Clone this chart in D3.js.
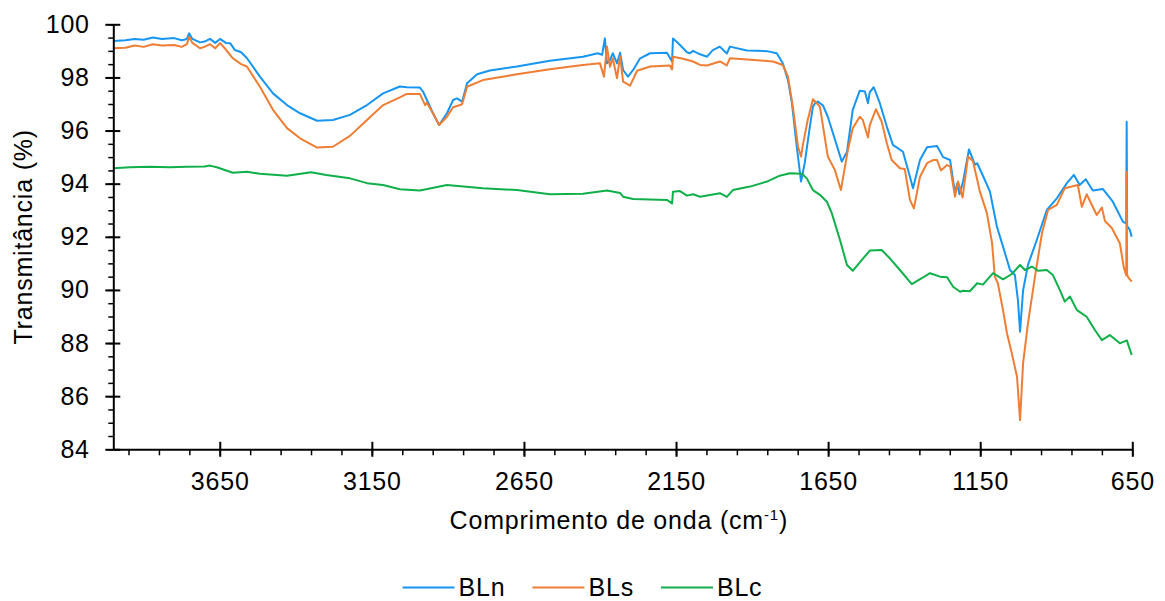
<!DOCTYPE html>
<html>
<head>
<meta charset="utf-8">
<script src="https://cdn.jsdelivr.net/npm/d3@7/dist/d3.min.js"></script>
<style>
  html, body { margin: 0; padding: 0; background: #fff; }
  svg { display: block; font-family: "Liberation Sans", Arial, sans-serif; }
  text { letter-spacing: 0.8px; }
</style>
</head>
<body>
<svg id="chart" width="1165" height="601"></svg>
<script>
// FTIR spectra: [wavenumber (cm-1), transmittance (%)]
const seriesNames = ["BLn", "BLs", "BLc"];
const seriesColors = ["#1696f0", "#ef7d33", "#0fb04a"];

const blnData = [
  [4000, 99.37], [3960, 99.40], [3930, 99.45], [3900, 99.42], [3870, 99.50], [3840, 99.45],
  [3800, 99.48], [3775, 99.40], [3758, 99.45], [3751, 99.66], [3740, 99.45], [3715, 99.32],
  [3700, 99.35], [3682, 99.45], [3665, 99.30], [3649, 99.45], [3630, 99.30], [3616, 99.29],
  [3600, 99.03], [3580, 98.95], [3561, 98.73], [3518, 98.03], [3475, 97.40], [3429, 96.96],
  [3386, 96.65], [3330, 96.37], [3278, 96.40], [3222, 96.59], [3166, 96.96], [3113, 97.40],
  [3058, 97.66], [3035, 97.63], [2992, 97.62], [2982, 97.47], [2975, 97.30], [2969, 97.15],
  [2949, 96.65], [2929, 96.21], [2903, 96.65], [2883, 97.15], [2870, 97.21], [2853, 97.09],
  [2837, 97.78], [2804, 98.12], [2762, 98.26], [2673, 98.41], [2565, 98.63], [2456, 98.78],
  [2407, 98.91], [2393, 98.85], [2384, 99.47], [2377, 98.53], [2367, 98.65], [2358, 98.91],
  [2344, 98.53], [2334, 98.93], [2324, 98.28], [2308, 98.03], [2291, 98.28], [2268, 98.72],
  [2235, 98.91], [2180, 98.93], [2163, 98.60], [2160, 99.47], [2137, 99.22], [2114, 98.95],
  [2104, 98.91], [2094, 99.00], [2071, 98.87], [2048, 98.78], [2029, 99.03], [2006, 99.16],
  [1983, 98.90], [1973, 99.16], [1917, 99.01], [1851, 98.99], [1819, 98.91], [1799, 98.53],
  [1782, 97.90], [1769, 97.03], [1753, 95.39], [1739, 94.08], [1727, 94.77], [1710, 96.15],
  [1700, 96.90], [1693, 97.03], [1684, 97.09], [1667, 96.95], [1651, 96.52], [1634, 95.90],
  [1605, 94.83], [1588, 95.20], [1569, 96.78], [1546, 97.50], [1529, 97.47], [1519, 97.03],
  [1513, 97.45], [1500, 97.63], [1480, 97.03], [1457, 96.15], [1437, 95.46], [1404, 95.20],
  [1381, 94.26], [1371, 93.83], [1348, 94.89], [1325, 95.37], [1292, 95.42], [1272, 95.00],
  [1249, 94.89], [1233, 93.64], [1226, 94.00], [1218, 93.60], [1206, 94.10], [1187, 95.29],
  [1167, 94.71], [1160, 94.77], [1141, 94.30], [1118, 93.70], [1095, 92.38], [1075, 91.63],
  [1052, 90.75], [1036, 90.56], [1026, 89.62], [1019, 88.43], [1009, 89.99], [993, 90.94],
  [964, 91.88], [931, 93.01], [898, 93.45], [865, 94.02], [842, 94.33], [823, 93.95],
  [803, 94.17], [780, 93.74], [747, 93.80], [714, 93.32], [681, 92.57], [670, 92.50],
  [668.5, 96.33], [667, 92.40], [658, 92.26], [652, 92.00]
];

const blsData = [
  [4000, 99.10], [3960, 99.12], [3930, 99.20], [3900, 99.15], [3870, 99.25], [3840, 99.20],
  [3800, 99.22], [3775, 99.15], [3758, 99.25], [3751, 99.53], [3740, 99.30], [3715, 99.10],
  [3700, 99.15], [3682, 99.25], [3665, 99.10], [3649, 99.29], [3630, 99.05], [3607, 98.72],
  [3580, 98.50], [3561, 98.41], [3518, 97.65], [3475, 96.78], [3429, 96.09], [3386, 95.71],
  [3330, 95.36], [3278, 95.39], [3222, 95.80], [3166, 96.40], [3113, 96.96], [3058, 97.25],
  [3035, 97.38], [2992, 97.38], [2975, 96.96], [2969, 97.05], [2949, 96.65], [2929, 96.21],
  [2903, 96.52], [2883, 96.88], [2860, 96.96], [2853, 97.00], [2837, 97.65], [2785, 97.90],
  [2673, 98.12], [2565, 98.31], [2456, 98.47], [2400, 98.53], [2387, 98.03], [2377, 99.16],
  [2367, 98.40], [2358, 98.72], [2344, 97.97], [2334, 98.80], [2324, 97.84], [2301, 97.69],
  [2278, 98.25], [2235, 98.41], [2170, 98.45], [2163, 98.30], [2160, 98.78], [2127, 98.70],
  [2094, 98.60], [2071, 98.47], [2048, 98.45], [2006, 98.60], [1983, 98.45], [1973, 98.72],
  [1851, 98.62], [1831, 98.60], [1799, 98.47], [1782, 98.03], [1766, 96.90], [1749, 95.39],
  [1739, 95.02], [1733, 95.46], [1717, 96.40], [1700, 97.18], [1677, 96.90], [1651, 95.02],
  [1628, 94.52], [1608, 93.76], [1585, 95.27], [1569, 96.09], [1546, 96.52], [1536, 96.40],
  [1519, 95.74], [1513, 96.20], [1493, 96.80], [1474, 96.34], [1457, 95.52], [1441, 94.89],
  [1414, 94.58], [1398, 94.55], [1381, 93.39], [1368, 93.07], [1348, 94.26], [1325, 94.77],
  [1305, 94.89], [1292, 94.89], [1279, 94.50], [1259, 94.70], [1249, 94.65], [1233, 93.51],
  [1223, 94.08], [1208, 93.48], [1190, 95.02], [1174, 94.85], [1151, 93.70], [1128, 92.89],
  [1111, 91.76], [1102, 90.50], [1092, 90.25], [1075, 89.24], [1062, 88.37], [1046, 87.61],
  [1029, 86.73], [1019, 85.10], [1009, 87.24], [993, 88.74], [970, 90.50], [947, 92.13],
  [927, 93.01], [898, 93.20], [872, 93.83], [829, 93.95], [816, 93.13], [800, 93.60],
  [767, 92.82], [750, 93.10], [740, 92.60], [717, 92.32], [691, 91.76], [678, 90.85],
  [670, 90.55], [668.5, 94.45], [667, 90.60], [665, 90.50], [652, 90.31]
];

const blcData = [
  [4000, 94.58], [3945, 94.62], [3879, 94.64], [3815, 94.62], [3758, 94.64], [3700, 94.65],
  [3682, 94.68], [3660, 94.62], [3607, 94.41], [3561, 94.45], [3518, 94.37], [3429, 94.30],
  [3350, 94.43], [3300, 94.33], [3222, 94.20], [3166, 94.02], [3113, 93.95], [3058, 93.79],
  [2992, 93.74], [2903, 93.95], [2785, 93.83], [2673, 93.76], [2565, 93.60], [2456, 93.62],
  [2377, 93.74], [2334, 93.65], [2324, 93.51], [2291, 93.42], [2180, 93.39], [2163, 93.26],
  [2160, 93.70], [2137, 93.72], [2114, 93.55], [2094, 93.60], [2071, 93.51], [2006, 93.64],
  [1983, 93.50], [1963, 93.76], [1907, 93.89], [1851, 94.08], [1809, 94.30], [1776, 94.39],
  [1736, 94.37], [1720, 94.20], [1700, 93.76], [1677, 93.58], [1654, 93.32], [1638, 92.89],
  [1611, 91.88], [1588, 90.94], [1569, 90.72], [1539, 91.13], [1513, 91.48], [1474, 91.50],
  [1447, 91.19], [1414, 90.75], [1375, 90.22], [1342, 90.44], [1315, 90.63], [1282, 90.50],
  [1259, 90.48], [1239, 90.12], [1216, 89.93], [1206, 89.97], [1184, 89.95], [1160, 90.25],
  [1141, 90.20], [1108, 90.63], [1075, 90.40], [1046, 90.60], [1019, 90.94], [1003, 90.75],
  [980, 90.88], [960, 90.72], [931, 90.75], [911, 90.56], [888, 89.99], [872, 89.56],
  [855, 89.75], [832, 89.24], [800, 88.99], [773, 88.49], [750, 88.11], [724, 88.30],
  [691, 87.99], [668, 88.10], [652, 87.55]
];

const allSeries = [blnData, blsData, blcData];

// Axis ticks
const xMajorTicks = [3650, 3150, 2650, 2150, 1650, 1150, 650];
const xMinorTicks = d3.range(650, 4000, 100);
const yMajorTicks = [84, 86, 88, 90, 92, 94, 96, 98, 100];
const yMinorTicks = d3.range(84, 100.01, 0.5);

const xTitle = "Comprimento de onda (cm";
const yTitle = "Transmitância (%)";

const svg = d3.select("#chart");
const plotLeft = 113.3, plotRight = 1132.3, plotTop = 24.3, plotBottom = 449.3;

const x = d3.scaleLinear().domain([4000, 650]).range([plotLeft, plotRight]);
const y = d3.scaleLinear().domain([84, 100]).range([plotBottom, plotTop]);

const line = d3.line().x(d => x(d[0])).y(d => y(d[1]));

// spectra
svg.append("g").selectAll("path")
  .data(allSeries)
  .join("path")
  .attr("d", line)
  .attr("fill", "none")
  .attr("stroke", (d, i) => seriesColors[i])
  .attr("stroke-width", 2)
  .attr("stroke-linejoin", "round");

const fontSize = 25;

// y axis
const yMinor = svg.append("g").attr("transform", `translate(${plotLeft},0)`)
  .call(d3.axisLeft(y).tickValues(yMinorTicks).tickSize(5).tickFormat(""));
yMinor.select(".domain").remove();
yMinor.selectAll("line").attr("stroke", "#000").attr("stroke-width", 1.5);

const yAxis = svg.append("g").attr("transform", `translate(${plotLeft},0)`)
  .call(d3.axisLeft(y).tickValues(yMajorTicks).tickSizeInner(8).tickSizeOuter(0).tickPadding(16));
yAxis.select(".domain").attr("stroke", "#000").attr("stroke-width", 2);
yAxis.selectAll(".tick line").attr("x2", 7).attr("x1", -8).attr("stroke", "#000").attr("stroke-width", 2);
yAxis.selectAll(".tick text")
  .attr("font-size", fontSize).attr("fill", "#000")
  .attr("font-family", "'Liberation Sans', Arial, sans-serif")
  .attr("x", -23.5);

// x axis
const xMinor = svg.append("g").attr("transform", `translate(0,${plotBottom})`)
  .call(d3.axisBottom(x).tickValues(xMinorTicks).tickSize(6).tickFormat(""));
xMinor.select(".domain").remove();
xMinor.selectAll("line").attr("stroke", "#000").attr("stroke-width", 1.5);

const xAxis = svg.append("g").attr("transform", `translate(0,${plotBottom})`)
  .call(d3.axisBottom(x).tickValues(xMajorTicks).tickSizeInner(7).tickSizeOuter(0).tickPadding(16).tickFormat(d3.format("d")));
xAxis.select(".domain").attr("stroke", "#000").attr("stroke-width", 2);
xAxis.selectAll(".tick line").attr("y1", -7.5).attr("y2", 7.5).attr("stroke", "#000").attr("stroke-width", 2);
xAxis.selectAll(".tick text")
  .attr("font-size", fontSize).attr("fill", "#000")
  .attr("font-family", "'Liberation Sans', Arial, sans-serif")
  .attr("y", 23);

// axis titles
const xt = svg.append("text")
  .attr("x", (plotLeft + plotRight) / 2 - 4).attr("y", 529)
  .attr("text-anchor", "middle")
  .attr("font-size", fontSize).attr("fill", "#000");
xt.append("tspan").text(xTitle);
xt.append("tspan").attr("font-size", 15).attr("dy", -9).text("-1");
xt.append("tspan").attr("dy", 9).text(")");

svg.append("text")
  .attr("transform", `translate(32,${(plotTop + plotBottom) / 2}) rotate(-90)`)
  .attr("text-anchor", "middle")
  .attr("font-size", fontSize).attr("fill", "#000")
  .text(yTitle);

// legend
const legend = svg.append("g");
const items = legend.selectAll("g").data(seriesNames).join("g");
items.append("line")
  .attr("x1", 0).attr("x2", 52).attr("y1", 0).attr("y2", 0)
  .attr("stroke", (d, i) => seriesColors[i]).attr("stroke-width", 2);
items.append("text")
  .attr("x", 56).attr("y", 8.5)
  .attr("font-size", fontSize).attr("fill", "#000")
  .text(d => d);
const widths = [];
items.each(function () {
  widths.push(56 + d3.select(this).select("text").node().getComputedTextLength());
});
const gap = 27;
const total = d3.sum(widths) + gap * (widths.length - 1);
let cx = 582.5 - total / 2;
items.attr("transform", (d, i) => {
  const t = `translate(${cx},587.5)`;
  cx += widths[i] + gap;
  return t;
});
</script>
</body>
</html>
